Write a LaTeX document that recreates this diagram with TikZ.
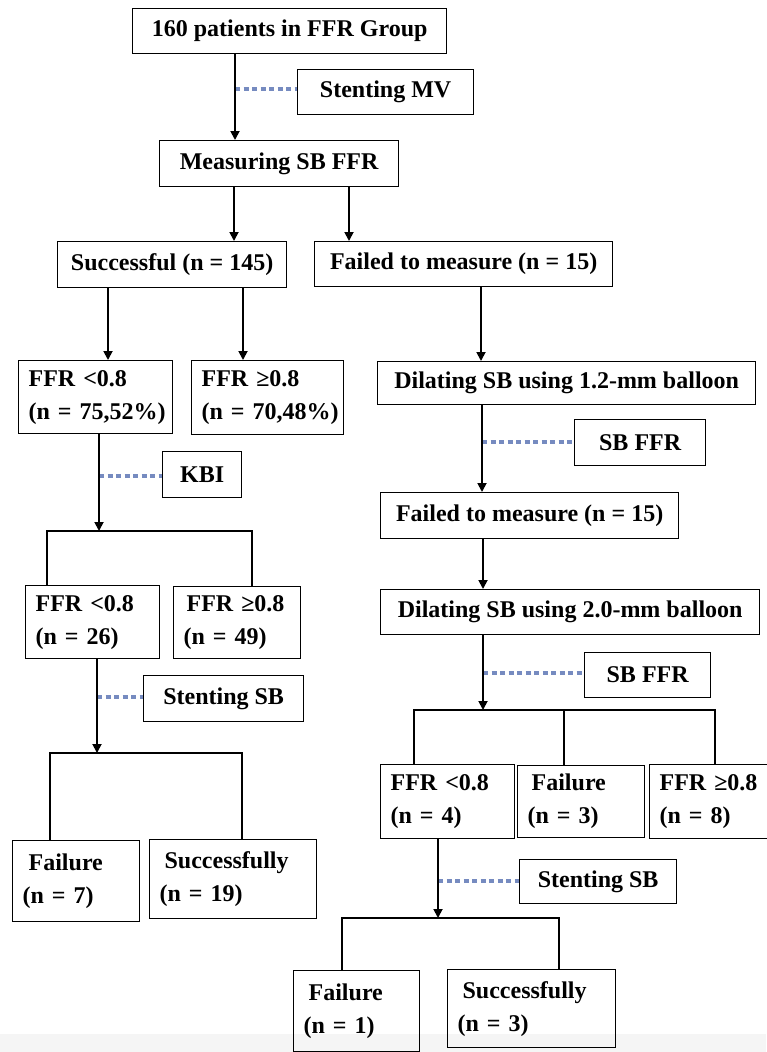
\documentclass[tikz,border=0pt]{standalone}
\usepackage{fontspec}
\setmainfont{Liberation Serif}
\usetikzlibrary{arrows.meta}
\definecolor{dotblue}{RGB}{118,139,192}

\begin{document}
\begin{tikzpicture} [x=1pt, y=-1pt,
    box/.style args={#1/#2}{draw, line width=1.3pt, minimum width=#1pt, minimum height=#2pt, inner sep=0pt, anchor=north west},
    tbox/.style args={#1/#2}{box={#1/#2}, inner xsep=10pt, text width=#1pt-20pt, align=left},
    arr/.style={line width=1.8pt, -{Triangle[width=9pt,length=9pt]}},
    ln/.style={line width=1.8pt},
    dots/.style={draw=dotblue, line width=4pt, dash pattern=on 5pt off 3.5pt}
  ]

\tikzstyle{every node}=[font=\bfseries\fontsize{24}{33}\selectfont]

\useasboundingbox (0,0) rectangle (766,1052);
\fill[black!4] (0,1034) rectangle (766,1052);

% boxes
\node[box=314/45] (top) at (132,8) {160 patients in FFR Group};
\node[box=176/45] (mv) at (297,69) {Stenting MV};
\node[box=239/46] (measure) at (159,140) {Measuring SB FFR};
\node[box=229/46] (succ) at (57,241) {Successful (n = 145)};
\node[box=298/45] (failA) at (314,241) {Failed to measure (n = 15)};
\node[tbox=154/73] (lowA) at (18,360) {FFR <0.8\\(n~=~75,52\%)};
\node[tbox=152/74] (highA) at (191,360) {FFR ≥0.8\\(n~=~70,48\%)};
\node[box=378/43] (dil1) at (377,361) {Dilating SB using 1.2-mm balloon};
\node[box=131/46] (sbffr1) at (574,419) {SB FFR};
\node[box=79/46] (kbi) at (162,451) {KBI};
\node[box=298/46] (failB) at (380,492) {Failed to measure (n = 15)};
\node[tbox=134/73] (lowB) at (25,585) {FFR <0.8\\(n = 26)};
\node[tbox=127/72] (highB) at (173,586) {\hspace*{3pt}FFR ≥0.8\\(n = 49)};
\node[box=379/45] (dil2) at (380,589) {Dilating SB using 2.0-mm balloon};
\node[box=126/45] (sbffr2) at (584,652) {SB FFR};
\node[box=160/46] (stentL) at (143,675) {Stenting SB};
\node[tbox=134/74] (lowC) at (380,764) {FFR <0.8\\(n = 4)};
\node[tbox=127/72] (failC) at (517,765) {\hspace*{4pt}Failure\\(n = 3)};
\node[tbox=130/74] (highC) at (649,764) {FFR ≥0.8\\(n = 8)};
\node[tbox=127/81] (failL) at (12,840) {\hspace*{6pt}Failure\\(n = 7)};
\node[tbox=167/79] (succL) at (149,839) {\hspace*{5pt}Successfully\\(n = 19)};
\node[box=157/44] (stentR) at (519,859) {Stenting SB};
\node[tbox=126/81] (failD) at (293,970) {\hspace*{5pt}Failure\\(n = 1)};
\node[tbox=168/78] (succD) at (447,969) {\hspace*{5pt}Successfully\\(n = 3)};

% top part
\coordinate (j1) at (235,89);
\draw[dots] (j1) -- (j1 -| mv.west);
\draw[arr] (top.south -| j1) -- (measure.north -| j1);

\coordinate (m1) at (234,210);
\coordinate (m2) at (349,210);
\draw[arr] (measure.south -| m1) -- (succ.north -| m1);
\draw[arr] (measure.south -| m2) -- (failA.north -| m2);

\coordinate (s1) at (108,320);
\coordinate (s2) at (243,320);
\draw[arr] (succ.south -| s1) -- (lowA.north -| s1);
\draw[arr] (succ.south -| s2) -- (highA.north -| s2);

% right column
\coordinate (f1) at (481,320);
\draw[arr] (failA.south -| f1) -- (dil1.north -| f1);

\coordinate (j2) at (482,442);
\draw[dots] (j2) -- (j2 -| sbffr1.west);
\draw[arr] (dil1.south -| j2) -- (failB.north -| j2);

\coordinate (f2) at (483,560);
\draw[arr] (failB.south -| f2) -- (dil2.north -| f2);

\coordinate (j5) at (483,673);
\coordinate (b2) at (483,710);
\coordinate (b2l) at (414,710);
\coordinate (b2m) at (564,710);
\coordinate (b2r) at (715,710);
\draw[dots] (j5) -- (j5 -| sbffr2.west);
\draw[arr] (dil2.south -| b2) -- (b2);
\draw[ln] (lowC.north -| b2l) |- (b2r) -- (highC.north -| b2r);
\draw[ln] (b2m) -- (failC.north -| b2m);

\coordinate (j7) at (438,881);
\coordinate (b4) at (438,918);
\coordinate (b4l) at (342,918);
\coordinate (b4r) at (559,918);
\draw[dots] (j7) -- (j7 -| stentR.west);
\draw[arr] (lowC.south -| b4) -- (b4);
\draw[ln] (failD.north -| b4l) |- (b4r) -- (succD.north -| b4r);

% left column
\coordinate (j4) at (99,476);
\coordinate (b1) at (99,531);
\coordinate (b1l) at (47,531);
\coordinate (b1r) at (252,531);
\draw[dots] (j4) -- (j4 -| kbi.west);
\draw[arr] (lowA.south -| b1) -- (b1);
\draw[ln] (lowB.north -| b1l) |- (b1r) -- (highB.north -| b1r);

\coordinate (j6) at (97,697);
\coordinate (b3) at (97,753);
\coordinate (b3l) at (50,753);
\coordinate (b3r) at (242,753);
\draw[dots] (j6) -- (j6 -| stentL.west);
\draw[arr] (lowB.south -| b3) -- (b3);
\draw[ln] (failL.north -| b3l) |- (b3r) -- (succL.north -| b3r);

\end{tikzpicture}
\end{document}
